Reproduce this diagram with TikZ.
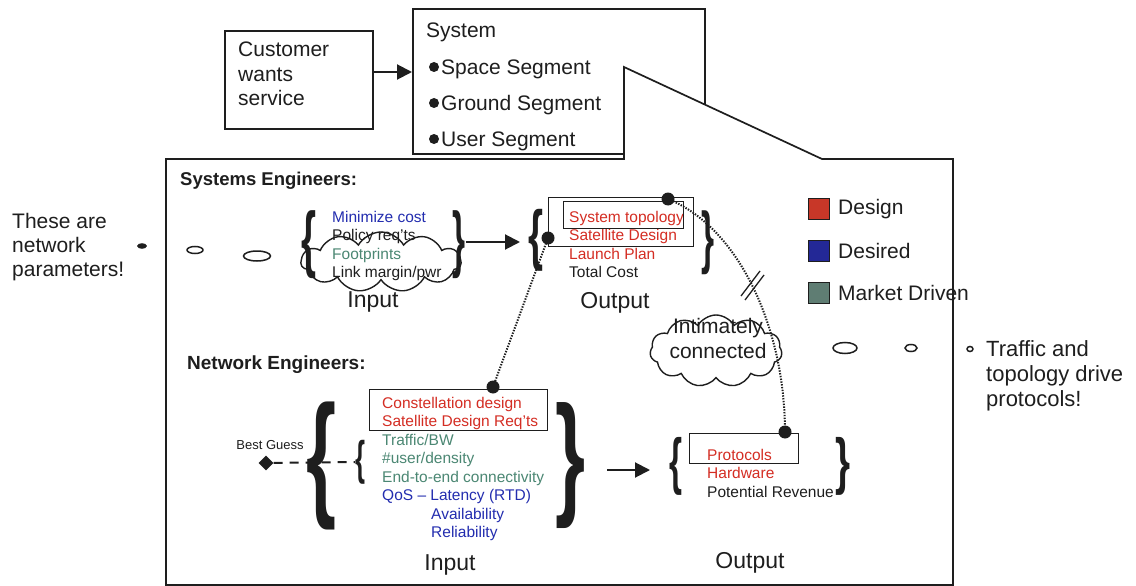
\documentclass[tikz,border=0pt]{standalone}
\usepackage{fontspec}
\setmainfont{Liberation Sans}
\usetikzlibrary{shapes.symbols,shapes.geometric,arrows.meta}

\definecolor{dsnred}{RGB}{212,45,35}
\definecolor{dsrblue}{RGB}{35,45,175}
\definecolor{mktgreen}{RGB}{75,135,115}
\definecolor{ink}{RGB}{30,30,30}
\definecolor{legred}{RGB}{200,55,40}
\definecolor{legblue}{RGB}{35,40,150}
\definecolor{leggreen}{RGB}{95,125,115}

\tikzset{
  box/.style={draw=ink, line width=1.7pt},
  txt/.style={inner sep=0pt, text=ink, align=left, anchor=north west},
  bigarrow/.style={draw=ink, line width=2pt, -{Triangle[length=15pt,width=15pt]}},
  link/.style={draw=ink, line width=2pt, dash pattern=on 1.4pt off 1.4pt},
  joint/.style={circle, fill=ink, inner sep=0pt, minimum size=13pt},
  bracenode/.style={inner sep=0pt, text=ink, font=\bfseries},
  puff/.style={cloud, draw=ink, line width=1.4pt, cloud puffs=11, cloud puff arc=120, inner sep=0pt},
  legsq/.style={draw=ink, line width=1pt, minimum width=21pt, minimum height=21pt, inner sep=0pt},
  oval/.style={ellipse, draw=ink, line width=1.5pt, inner sep=0pt},
  item/.style={font=\fontsize{15.5}{18.5}\selectfont},
  io/.style={inner sep=0pt, text=ink, font=\fontsize{23}{26}\selectfont},
}

\begin{document}
\begin{tikzpicture}[x=1pt,y=-1pt]
\useasboundingbox[fill=white] (0,0) rectangle (1136,586);

% customer and system boxes
\node[box, minimum width=148pt, minimum height=98pt, anchor=north west] (cust) at (224,30) {};
\node[txt, font=\fontsize{21}{24.5}\selectfont] (custtxt) at (238,42) {Customer\\wants\\service};
\node[box, minimum width=292pt, minimum height=145pt, anchor=north west] (sys) at (412,8) {};
\node[txt, font=\fontsize{21}{36}\selectfont] (systitle) at (426,23) {System};
\node[txt, font=\fontsize{21}{36}\selectfont] (syslist) at (441,60) {Space Segment\\Ground Segment\\User Segment};
\foreach \yy in {67,103,139} \fill[ink] (434,\yy) circle (5pt);
\draw[bigarrow] (cust.east |- 0,72) -- (sys.west |- 0,72);

% callout with the detailed view
\draw[box, fill=white] (166,585) -- (166,159) -- (624,159) -- (624,67) -- (822,159)
  -- (953,159) -- (953,585) -- cycle;

% side remarks
\node[txt, font=\fontsize{21}{24}\selectfont] (leftnote) at (12,213) {These are\\network\\parameters!};
\node[txt, font=\fontsize{22}{25}\selectfont] (rightnote) at (986,340) {Traffic and\\topology drive\\protocols!};
\node[oval, fill=ink, minimum width=8pt, minimum height=4pt] (lo1) at (142,246) {};
\node[oval, minimum width=16pt, minimum height=7pt] (lo2) at (195,250) {};
\node[oval, minimum width=27pt, minimum height=10pt] (lo3) at (257,256) {};
\node[oval, minimum width=24pt, minimum height=11pt] (ro1) at (845,348) {};
\node[oval, minimum width=12pt, minimum height=7pt] (ro2) at (911,348) {};
\node[oval, minimum width=6pt, minimum height=5pt] (ro3) at (970,349) {};

% systems engineers
\node[inner sep=0pt, anchor=west, text=ink, font=\bfseries\fontsize{18.5}{22}\selectfont] (sehead) at (180,181) {Systems Engineers:};
\node[bracenode] (sein1) at (309,245) {\resizebox*{15pt}{68pt}{\{}};
\node[bracenode] (sein2) at (459,245) {\resizebox*{13pt}{68pt}{\}}};
\node[txt, item] (seinput) at (332,211) {\textcolor{dsrblue}{Minimize cost}\\Policy req'ts\\\textcolor{mktgreen}{Footprints}\\Link margin/pwr};
\node[puff, minimum width=160pt, minimum height=60pt] (secloud) at (381,262) {};
\node[io] (seinlbl) at (373,302) {Input};
\draw[bigarrow] (sein2.east |- 0,242) -- (520,242) coordinate (searr);
\node[bracenode] (seout1) at (536,240) {\resizebox*{15pt}{62pt}{\{}};
\node[bracenode] (seout2) at (708,243) {\resizebox*{13pt}{64pt}{\}}};
\node[txt, item] (seoutput) at (569,211) {\textcolor{dsnred}{System topology}\\\textcolor{dsnred}{Satellite Design}\\\textcolor{dsnred}{Launch Plan}\\Total Cost};
\node[draw=ink, line width=1.4pt, minimum width=145pt, minimum height=49pt, anchor=north west] (seouter) at (548,197) {};
\node[draw=ink, line width=1.4pt, minimum width=120pt, minimum height=27pt, anchor=north west] (seinner) at (563,201) {};
\node[io] (seoutlbl) at (615,303) {Output};
\node[joint] (jtop) at (668,199) {};
\node[joint] (jleft) at (548,238) {};

% legend
\node[legsq, fill=legred, anchor=north west] (lgdesign) at (808,198) {};
\node[legsq, fill=legblue, anchor=north west] (lgdesired) at (808,240) {};
\node[legsq, fill=leggreen, anchor=north west] (lgmarket) at (808,282) {};
\node[inner sep=0pt, anchor=west, text=ink, font=\fontsize{21}{24}\selectfont] (ltdesign) at (838,209) {Design};
\node[inner sep=0pt, anchor=west, text=ink, font=\fontsize{21}{24}\selectfont] (ltdesired) at (838,251) {Desired};
\node[inner sep=0pt, anchor=west, text=ink, font=\fontsize{21}{24}\selectfont] (ltmarket) at (838,293) {Market Driven};

% coupling between the two views
\node[puff, minimum width=132pt, minimum height=72pt] (tiecloud) at (716,351) {};
\node[inner sep=0pt, text=ink, align=center, font=\fontsize{21}{25}\selectfont] (tietxt) at (718,338) {Intimately\\connected};

% network engineers
\node[inner sep=0pt, anchor=west, text=ink, font=\bfseries\fontsize{19}{22}\selectfont] (nehead) at (187,365) {Network Engineers:};
\node[bracenode] (nein1) at (322,466) {\resizebox*{30pt}{128pt}{\{}};
\node[bracenode] (nein2) at (570,466) {\resizebox*{30pt}{126pt}{\}}};
\node[bracenode] (nesmall) at (360,462) {\resizebox*{10pt}{44pt}{\{}};
\node[txt, item] (neinput) at (382,397) {\textcolor{dsnred}{Constellation design}\\\textcolor{dsnred}{Satellite Design Req'ts}\\\textcolor{mktgreen}{Traffic/BW}\\\textcolor{mktgreen}{\#user/density}\\\textcolor{mktgreen}{End-to-end connectivity}\\\textcolor{dsrblue}{QoS – Latency (RTD)}\\\textcolor{dsrblue}{\hspace*{49pt}Availability}\\\textcolor{dsrblue}{\hspace*{49pt}Reliability}};
\node[draw=ink, line width=1.4pt, minimum width=178pt, minimum height=41pt, anchor=north west] (neinbox) at (369,389) {};
\node[joint] (jnet) at (493,387) {};
\node[io] (neinlbl) at (450,565) {Input};
\node[inner sep=0pt, text=ink, font=\fontsize{13}{15}\selectfont] (guesslbl) at (270,445) {Best Guess};
\node[diamond, fill=ink, minimum width=15pt, minimum height=15pt, inner sep=0pt] (guess) at (266,463) {};
\draw[draw=ink, line width=2pt, dash pattern=on 9pt off 7pt] (guess) -- (nesmall.west);

\draw[bigarrow] (607,470) -- (650,470) coordinate (nearr);
\node[bracenode] (neout1) at (676,466) {\resizebox*{13pt}{58pt}{\{}};
\node[bracenode] (neout2) at (843,466) {\resizebox*{15pt}{58pt}{\}}};
\node[txt, item] (neoutput) at (707,449) {\textcolor{dsnred}{Protocols}\\\textcolor{dsnred}{Hardware}\\Potential Revenue};
\node[draw=ink, line width=1.4pt, minimum width=109pt, minimum height=30pt, anchor=north west] (neoutbox) at (689,433) {};
\node[joint] (jproto) at (785,432) {};
\node[io] (neoutlbl) at (750,563) {Output};

% dotted ties
\draw[link] (jleft.center) -- (jnet.center);
\draw[link] (jtop.center) .. controls (740,228) and (785,330) .. (jproto.center);
\draw[ink, line width=1.3pt] (741,296) -- (760,271);
\draw[ink, line width=1.3pt] (745,300) -- (764,275);
\end{tikzpicture}
\end{document}
